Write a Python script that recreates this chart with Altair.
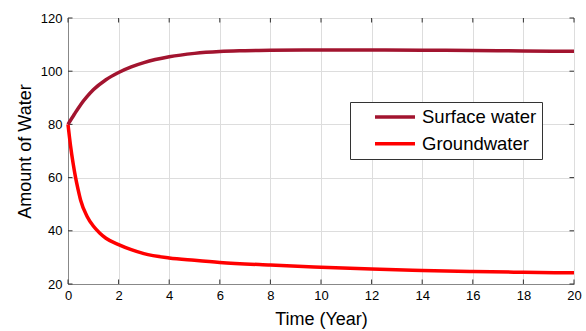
import altair as alt
import pandas as pd

series = ["Surface water", "Groundwater"]
colors = ["#A2142F", "#FF0000"]

t_surface = [0, 0.25, 0.5, 0.75, 1, 1.5, 2, 2.5, 3, 4, 5, 6, 7, 8, 10, 12, 14, 16, 18, 20]
v_surface = [80, 83.8, 87.4, 90.4, 93.0, 96.8, 99.5, 101.6, 103.2, 105.4, 106.7, 107.4,
             107.7, 107.9, 108.0, 108.0, 107.9, 107.8, 107.6, 107.5]

t_ground = [0, 0.1, 0.2, 0.3, 0.4, 0.5, 0.75, 1, 1.25, 1.5, 2, 2.5, 3, 4, 5, 6, 8, 10,
            12, 14, 16, 18, 20]
v_ground = [80, 72, 65.5, 60, 55.5, 51.5, 45.5, 41.8, 39.2, 37.2, 34.8, 32.9, 31.4, 29.8,
            28.9, 28.1, 27.1, 26.3, 25.6, 25.1, 24.7, 24.4, 24.2]

x_ticks = [0, 2, 4, 6, 8, 10, 12, 14, 16, 18, 20]
y_ticks = [20, 40, 60, 80, 100, 120]

W, H = 506, 266
FONT = "Liberation Sans"

surf = pd.DataFrame({"t": t_surface, "v": v_surface, "s": series[0]})
gw = pd.DataFrame({"t": t_ground, "v": v_ground, "s": series[1]})
xt = pd.DataFrame({"t": x_ticks})
yt = pd.DataFrame({"v": y_ticks})

xs = alt.Scale(domain=[0, 20], nice=False, zero=False)
ys = alt.Scale(domain=[20, 120], nice=False, zero=False)

x_axis = alt.Axis(values=x_ticks, ticks=False, labelPadding=5, titlePadding=8,
                  labelFontSize=13, titleFontSize=18, titleFontWeight="normal",
                  labelFont=FONT, titleFont=FONT, labelFlush=False)
y_axis = alt.Axis(values=y_ticks, ticks=False, labelPadding=6, titlePadding=6,
                  labelFontSize=13, titleFontSize=18, titleFontWeight="normal",
                  labelFont=FONT, titleFont=FONT, labelFlush=False)


def X():
    return alt.X("t:Q", scale=xs, axis=x_axis, title="Time (Year)")


def Y():
    return alt.Y("v:Q", scale=ys, axis=y_axis, title="Amount of Water")


NBSP = "\u00a0" * 10

color = alt.Color(
    "s:N",
    scale=alt.Scale(domain=series, range=colors),
    legend=alt.Legend(
        title=None,
        orient="none",
        legendX=282,
        legendY=84,
        symbolType="stroke",
        symbolSize=1600,
        symbolStrokeWidth=3.5,
        symbolOffset=18,
        clipHeight=20,
        rowPadding=6.7,
        padding=5,
        labelFontSize=18.5,
        labelFont=FONT,
        labelColor="#000000",
        labelOffset=5,
        labelLimit=300,
        labelExpr="datum.label + '" + NBSP + "'",
        strokeColor="#333333",
        fillColor="#ffffff",
    ),
)

line_gw = alt.Chart(gw).mark_line(strokeWidth=3.5, interpolate="monotone").encode(
    x=X(), y=Y(), color=color)
line_sf = alt.Chart(surf).mark_line(strokeWidth=3.5, interpolate="monotone").encode(
    x=X(), y=Y(), color=color)

tick_col = "#333333"
xt_top = alt.Chart(xt).mark_rule(color=tick_col, strokeWidth=1).encode(
    x=X(), y=alt.value(0), y2=alt.value(4.5))
xt_bot = alt.Chart(xt).mark_rule(color=tick_col, strokeWidth=1).encode(
    x=X(), y=alt.value(H - 4.5), y2=alt.value(H))
yt_left = alt.Chart(yt).mark_rule(color=tick_col, strokeWidth=1).encode(
    y=Y(), x=alt.value(0), x2=alt.value(4.5))
yt_right = alt.Chart(yt).mark_rule(color=tick_col, strokeWidth=1).encode(
    y=Y(), x=alt.value(W - 4.5), x2=alt.value(W))

chart = alt.layer(xt_top, xt_bot, yt_left, yt_right, line_gw, line_sf).properties(
    width=W,
    height=H,
    autosize=alt.AutoSizeParams(type="none"),
    padding={"left": 68, "top": 18, "right": 12, "bottom": 47},
).configure_view(
    stroke="#333333", strokeWidth=1
).configure_axis(
    domainColor="#333333",
    gridColor="#e2e2e2",
    gridWidth=1,
    labelColor="#404040",
    titleColor="#262626",
    labelFont=FONT,
    titleFont=FONT,
    titleFontWeight="normal",
).configure(background="#ffffff")

chart.save("out.html", embed_options={"renderer": "svg", "actions": False})
